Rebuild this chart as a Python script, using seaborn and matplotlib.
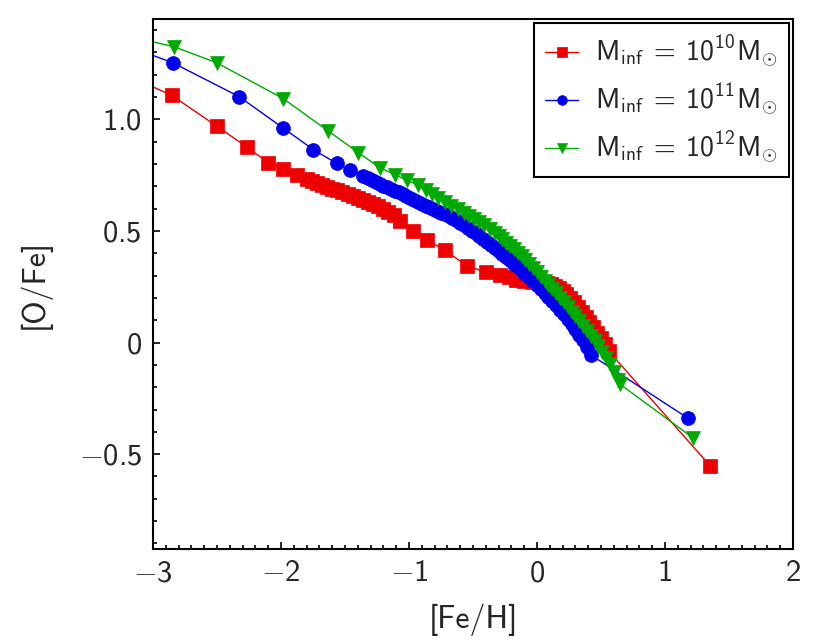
import numpy as np
import pandas as pd
import matplotlib
matplotlib.use('Agg')
import matplotlib.pyplot as plt
from matplotlib.ticker import MultipleLocator, FuncFormatter
import seaborn as sns

# ── Données ───────────────────────────────────────────────────────────────────
fe_h_10 = [-3.25, -2.854, -2.502, -2.268, -2.099, -1.982, -1.877,
           -1.80, -1.76, -1.72, -1.68, -1.64, -1.60, -1.56, -1.52, -1.48,
           -1.44, -1.40, -1.36, -1.32, -1.28, -1.24, -1.20, -1.16, -1.12,
           -1.07, -0.97, -0.86, -0.72, -0.55, -0.40, -0.29, -0.22, -0.16,
           -0.10, -0.04, 0.02, 0.08, 0.11, 0.14, 0.17, 0.20, 0.23, 0.26,
           0.29, 0.32, 0.35, 0.38, 0.41, 0.44, 0.47, 0.50, 0.53, 0.56,
           1.352]
o_fe_10 = [1.21, 1.108, 0.970, 0.877, 0.806, 0.779, 0.753,
           0.734, 0.724, 0.715, 0.707, 0.698, 0.690, 0.682, 0.674, 0.666,
           0.658, 0.650, 0.641, 0.632, 0.622, 0.612, 0.600, 0.587, 0.573,
           0.547, 0.499, 0.460, 0.414, 0.345, 0.315, 0.302, 0.292, 0.280,
           0.274, 0.271, 0.268, 0.265, 0.262, 0.254, 0.243, 0.230, 0.216,
           0.201, 0.182, 0.160, 0.138, 0.116, 0.093, 0.069, 0.045, 0.020,
           -0.007, -0.038,
           -0.552]

fe_h_11 = [-3.25, -2.846, -2.326, -1.987, -1.748, -1.565, -1.461, -1.357,
           -1.32, -1.29, -1.26, -1.23, -1.20, -1.17, -1.14, -1.11, -1.08,
           -1.05, -1.02, -0.99, -0.96, -0.93, -0.90, -0.87, -0.84, -0.81,
           -0.78, -0.75, -0.72, -0.69, -0.66, -0.63, -0.60, -0.57, -0.54,
           -0.51, -0.48, -0.45, -0.42, -0.39, -0.36, -0.33, -0.30, -0.27,
           -0.24, -0.21, -0.18, -0.15, -0.12, -0.09, -0.06, -0.03, 0.00,
           0.03, 0.06, 0.09, 0.12, 0.15, 0.18, 0.21, 0.24, 0.27, 0.30,
           0.33, 0.36, 0.39, 0.42,
           1.177]
o_fe_11 = [1.34, 1.254, 1.102, 0.963, 0.865, 0.803, 0.773, 0.746,
           0.737, 0.729, 0.720, 0.711, 0.703, 0.695, 0.688, 0.680, 0.673,
           0.665, 0.658, 0.649, 0.640, 0.631, 0.622, 0.614, 0.606, 0.598,
           0.590, 0.582, 0.574, 0.566, 0.558, 0.548, 0.537, 0.526, 0.514,
           0.502, 0.490, 0.478, 0.465, 0.452, 0.438, 0.424, 0.410, 0.396,
           0.382, 0.368, 0.353, 0.338, 0.323, 0.308, 0.292, 0.276, 0.259,
           0.242, 0.224, 0.206, 0.187, 0.168, 0.148, 0.127, 0.106, 0.084,
           0.061, 0.036, 0.010, -0.020, -0.055,
           -0.338]

fe_h_12 = [-3.25, -2.836, -2.502, -1.982, -1.630, -1.396, -1.227, -1.109,
           -1.018, -0.927, -0.87, -0.82, -0.77, -0.72, -0.67, -0.62, -0.57,
           -0.53, -0.49, -0.45, -0.41, -0.37, -0.33, -0.30, -0.27, -0.24,
           -0.21, -0.18, -0.15, -0.12, -0.09, -0.06, -0.03, 0.00, 0.03,
           0.06, 0.09, 0.12, 0.15, 0.18, 0.21, 0.24, 0.27, 0.30, 0.33,
           0.36, 0.39, 0.42, 0.45, 0.48, 0.51, 0.54, 0.57, 0.60, 0.63,
           0.645,
           1.221]
o_fe_12 = [1.38, 1.326, 1.254, 1.093, 0.948, 0.851, 0.783, 0.753,
           0.728, 0.705, 0.684, 0.666, 0.648, 0.631, 0.614, 0.597, 0.580,
           0.567, 0.553, 0.539, 0.525, 0.509, 0.491, 0.477, 0.463, 0.448,
           0.433, 0.418, 0.403, 0.387, 0.370, 0.352, 0.334, 0.315, 0.296,
           0.277, 0.259, 0.241, 0.222, 0.201, 0.180, 0.159, 0.138, 0.117,
           0.095, 0.074, 0.052, 0.030, 0.007, -0.016, -0.040, -0.067,
           -0.097, -0.130, -0.168, -0.185,
           -0.428]

labels  = [r'$\mathrm{M_{inf}}\;=\;10^{10}\mathrm{M}_{\odot}$',
           r'$\mathrm{M_{inf}}\;=\;10^{11}\mathrm{M}_{\odot}$',
           r'$\mathrm{M_{inf}}\;=\;10^{12}\mathrm{M}_{\odot}$']
colors  = ['#ee0000', '#0000ee', '#00aa00']
markers = ['s', 'o', 'v']

# ── Style ─────────────────────────────────────────────────────────────────────
sns.set_style('ticks')
plt.rcParams['font.family'] = 'cmss10'
plt.rcParams['mathtext.fontset'] = 'custom'
plt.rcParams['mathtext.rm'] = 'cmss10'
plt.rcParams['mathtext.sf'] = 'cmss10'
plt.rcParams['mathtext.it'] = 'cmss10'
plt.rcParams['axes.formatter.use_mathtext'] = True

fig = plt.figure(figsize=(8.3, 6.4), dpi=100)
ax = fig.add_axes([0.1843, 0.1422, 0.7711, 0.8281])

series = [(fe_h_10, o_fe_10), (fe_h_11, o_fe_11), (fe_h_12, o_fe_12)]
for (x, y), lab, col, mk in zip(series, labels, colors, markers):
    df = pd.DataFrame({'fe_h': x, 'o_fe': y})
    sns.lineplot(data=df, x='fe_h', y='o_fe', ax=ax, sort=False,
                 estimator=None, color=col, marker=mk, markersize=10,
                 markeredgecolor=col, markeredgewidth=0.5, linewidth=1,
                 label=lab)

ax.set_xlim(-3, 2)
ax.set_ylim(-0.925, 1.45)
ax.xaxis.set_major_locator(MultipleLocator(1))
ax.xaxis.set_minor_locator(MultipleLocator(0.1))
ax.yaxis.set_major_locator(MultipleLocator(0.5))
ax.yaxis.set_minor_locator(MultipleLocator(0.1))
ax.xaxis.set_major_formatter(FuncFormatter(lambda v, p: r'$%d$' % round(v)))
ax.yaxis.set_major_formatter(FuncFormatter(
    lambda v, p: r'$0$' if abs(v) < 1e-9 else r'$%.1f$' % v))

ax.tick_params(which='both', direction='in', top=False, right=False,
               labelsize=22, width=1.2, color='black')
ax.tick_params(which='major', length=5, pad=8)
ax.tick_params(which='minor', length=3)
for sp in ax.spines.values():
    sp.set_linewidth(1.5)
    sp.set_color('black')

ax.set_xlabel('[Fe/H]', fontsize=23, labelpad=12)
ax.set_ylabel('[O/Fe]', fontsize=23, labelpad=20)

leg = ax.legend(loc='upper right', fontsize=20, frameon=True, fancybox=False,
                borderaxespad=0.15, markerscale=0.7, handlelength=1.2,
                handletextpad=0.6, labelspacing=0.42)
leg.get_frame().set_edgecolor('black')
leg.get_frame().set_linewidth(1.5)
leg.get_frame().set_alpha(1)

fig.savefig('out.png', dpi=100)
